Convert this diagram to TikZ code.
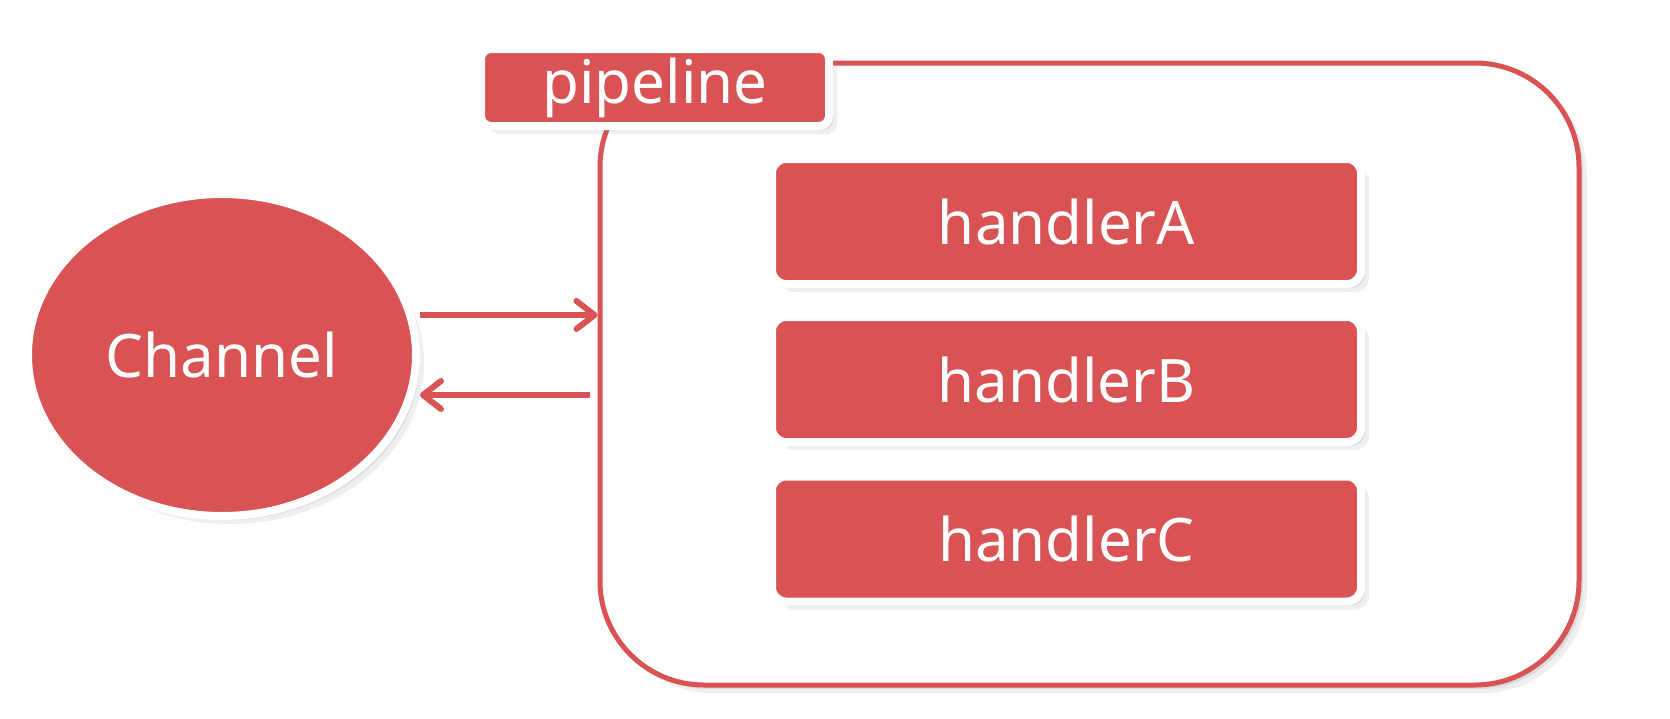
\documentclass[tikz,border=0pt]{standalone}
\usepackage{fontspec}
\setmainfont{Noto Sans}
\usetikzlibrary{shapes.geometric,shadows,arrows.meta}

\definecolor{pipered}{RGB}{217,83,84}

\tikzset{
  softshadow/.style={
    drop shadow={opacity=0.18,shadow xshift=2pt,shadow yshift=-2pt},
    drop shadow={opacity=0.12,shadow xshift=4pt,shadow yshift=-4pt}},
  bigtext/.style={text=white,font=\fontsize{30}{36}\selectfont},
  redbox/.style={rectangle,rounded corners=7pt,fill=pipered,draw=white,
    line width=4pt,inner sep=0pt,bigtext,softshadow},
  handler/.style={redbox,minimum width=294.5pt,minimum height=62.5pt},
  tagbox/.style={redbox,rounded corners=5pt,minimum width=174pt,minimum height=38.5pt},
  chanball/.style={ellipse,fill=pipered,draw=white,line width=4pt,inner sep=0pt,
    minimum width=194pt,minimum height=161pt,bigtext,softshadow},
  container/.style={rectangle,rounded corners=52pt,draw=pipered,line width=2.5pt,
    fill=white,minimum width=489.5pt,minimum height=311pt,softshadow},
  flow/.style={pipered,line width=3pt,-{Straight Barb[length=9pt,width=14pt,round]}}
}

\begin{document}
\begin{tikzpicture}[x=0.5pt,y=-0.5pt]
\useasboundingbox (0,0) rectangle (1670,718);
\fill[white] (0,0) rectangle (1670,718);

% pipeline with its handlers
\node[container] (pipe) at (1089.5,374) {};
\node[tagbox] (tag) at (655,87.5) {pipeline};
\node[handler] (hA) at (1066.5,221.5) {handlerA};
\node[handler] (hB) at (1066.5,379.5) {handlerB};
\node[handler] (hC) at (1066.5,539) {handlerC};

% channel
\node[chanball] (chan) at (222,355) {Channel};

\coordinate (inA) at ([yshift=20pt]chan.east);
\coordinate (inB) at ([yshift=-20pt]chan.east);
\draw[flow] (inA) -- (inA -| pipe.west);
\draw[flow,shorten <=4pt] (inB -| pipe.west) -- (inB);
\end{tikzpicture}
\end{document}
